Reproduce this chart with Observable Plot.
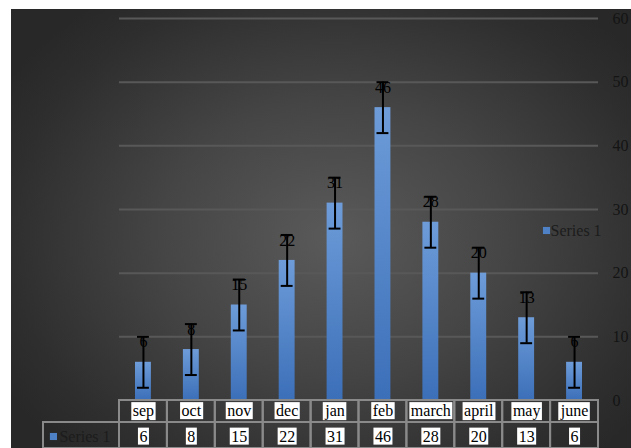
<!DOCTYPE html>
<html><head><meta charset="utf-8">
<script src="https://cdn.jsdelivr.net/npm/d3@7"></script>
<script src="https://cdn.jsdelivr.net/npm/@observablehq/plot@0.6"></script>
<style>
body{margin:0;background:#fff;}
#wrap{position:relative;width:631px;height:448px;background:#fff;overflow:hidden;}
#bg{position:absolute;left:11px;top:9px;width:620px;height:439px;
  background:radial-gradient(ellipse 62% 68% at 52% 52%, #5a5a5a 0%, #454545 45%, #2e2e2e 85%, #282828 100%);}
#wrap svg{position:absolute;left:0;overflow:visible;background:transparent;}
</style></head><body>
<div id="wrap"><div id="bg"></div></div>
<script>
const months = ["sep","oct","nov","dec","jan","feb","march","april","may","june"];
const values = [6, 8, 15, 22, 31, 46, 28, 20, 13, 6];
const errors = [4, 4, 4, 4, 4, 4, 4, 4, 4, 4];
const yTicks = [0, 10, 20, 30, 40, 50, 60];
const seriesName = "Series 1";

const data = months.map((m, i) => ({month: m, value: values[i], lo: values[i] - errors[i], hi: values[i] + errors[i]}));
const font = "'Liberation Serif', 'Times New Roman', serif";
const blue = "#4f81c7";
const fs = 16;

const chart = Plot.plot({
  width: 631, height: 400,
  marginLeft: 119, marginRight: 33, marginTop: 18, marginBottom: 0,
  style: {background: "transparent", fontFamily: font, fontSize: fs + "px", overflow: "visible"},
  x: {domain: months, padding: 0, round: false, axis: null},
  y: {domain: [0, 60], axis: null},
  marks: [
    Plot.ruleY(yTicks.filter(t => t > 0), {stroke: "#585858", strokeWidth: 2}),
    Plot.axisY(yTicks, {anchor: "right", tickSize: 0, tickPadding: 14, textAnchor: "start", fill: "#141414", fontSize: fs, tickFormat: d => String(d)}),
    Plot.barY(data, {x: "month", y: "value", fill: "url(#barGrad)", insetLeft: 16, insetRight: 16}),
    Plot.ruleX(data, {x: "month", y1: "lo", y2: "hi", stroke: "#000", strokeWidth: 2}),
    Plot.tickY(data, {x: "month", y: "lo", stroke: "#000", strokeWidth: 2, insetLeft: 18, insetRight: 18}),
    Plot.tickY(data, {x: "month", y: "hi", stroke: "#000", strokeWidth: 2, insetLeft: 18, insetRight: 18}),
    Plot.text(data, {x: "month", y: "value", text: d => String(d.value), dy: -20, fill: "#000", fontSize: fs}),
    Plot.dot([seriesName], {frameAnchor: "right", dx: -52, dy: 21, symbol: "square", r: 4, fill: blue, stroke: "none"}),
    Plot.text([seriesName], {frameAnchor: "right", text: d => d, dx: -48, dy: 21, textAnchor: "start", fill: "#1c1c1c", fontSize: fs})
  ]
});
chart.style.top = "0px";

const defs = d3.select(chart).insert("defs", ":first-child");
const g = defs.append("linearGradient").attr("id", "barGrad").attr("x1", 0).attr("y1", 0).attr("x2", 0).attr("y2", 1);
g.append("stop").attr("offset", 0).attr("stop-color", "#6e9cd9");
g.append("stop").attr("offset", 1).attr("stop-color", "#3b6fb8");

const table = Plot.plot({
  width: 631, height: 48,
  marginLeft: 119, marginRight: 33, marginTop: 0, marginBottom: 0,
  style: {background: "transparent", fontFamily: font, fontSize: fs + "px", overflow: "visible"},
  x: {domain: months, padding: 0, round: false, axis: null},
  y: {type: "band", domain: ["cat", "val"], range: [0, 48], padding: 0, round: false, axis: null},
  marks: [
    Plot.cell(months, {x: d => d, y: () => "cat", fill: "none", stroke: "#8a8a8a", strokeWidth: 2, insetBottom: 2}),
    Plot.cell(months, {x: d => d, y: () => "val", fill: "none", stroke: "#8a8a8a", strokeWidth: 2, insetTop: -2}),
    Plot.cell([months[0]], {x: d => d, y: () => "val", fill: "none", stroke: "#8a8a8a", strokeWidth: 2, insetTop: -2, insetLeft: -76, insetRight: 47.9}),
    Plot.text(months, {x: d => d, y: () => "cat", text: d => d, dy: -1.5, fill: "#000", fontSize: fs, ariaLabel: () => "tablecell"}),
    Plot.text(data, {x: "month", y: () => "val", text: d => String(d.value), dy: 0, fill: "#000", fontSize: fs, ariaLabel: () => "tablecell"}),
    Plot.dot([months[0]], {x: d => d, y: () => "val", dx: -90, dy: 0, symbol: "square", r: 4, fill: blue, stroke: "none"}),
    Plot.text([seriesName], {x: () => months[0], y: () => "val", text: d => d, dx: -84, dy: 0, textAnchor: "start", fill: "#1c1c1c", fontSize: fs})
  ]
});
table.style.top = "400px";

const wrap = document.getElementById("wrap");
wrap.appendChild(chart);
wrap.appendChild(table);

// white boxes behind the table texts
table.querySelectorAll('text[aria-label="tablecell"]').forEach(t => {
  const b = t.getBBox();
  const r = document.createElementNS("http://www.w3.org/2000/svg", "rect");
  r.setAttribute("x", b.x - 1.5);
  r.setAttribute("y", b.y);
  r.setAttribute("width", b.width + 3);
  r.setAttribute("height", b.height);
  r.setAttribute("fill", "#fff");
  if (t.getAttribute("transform")) r.setAttribute("transform", t.getAttribute("transform"));
  t.parentNode.insertBefore(r, t);
});
</script>
</body></html>
